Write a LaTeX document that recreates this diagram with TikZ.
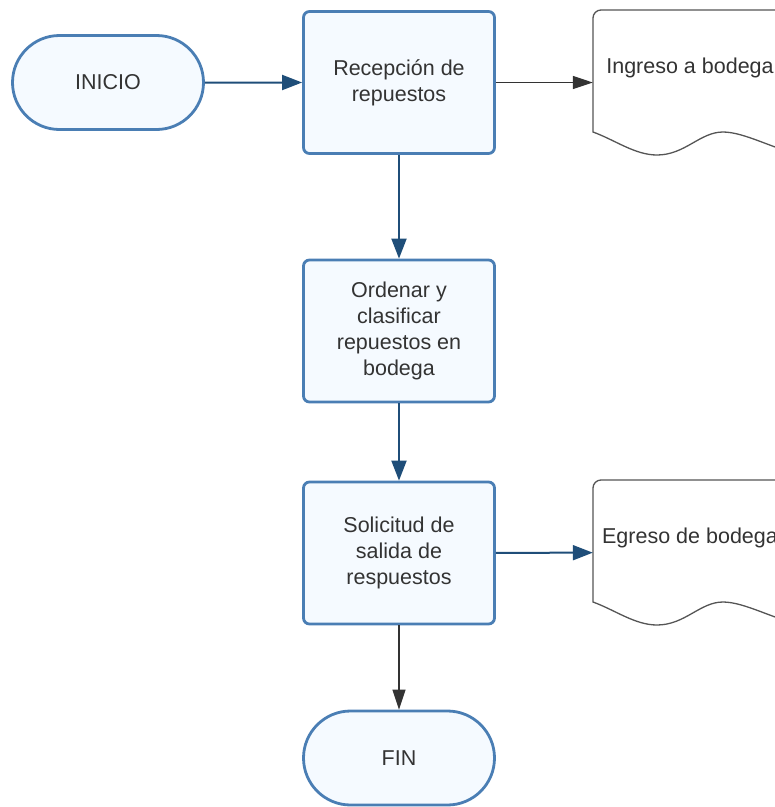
\documentclass[tikz,border=0pt]{standalone}
\usepackage{fontspec}
\setmainfont{Liberation Sans}
\usetikzlibrary{arrows.meta,shapes.misc}
\definecolor{bordblue}{HTML}{4A7EB4}
\definecolor{fillblue}{HTML}{F5FAFF}
\definecolor{arrblue}{HTML}{1F4E79}
\definecolor{txt}{HTML}{333333}
\definecolor{docline}{HTML}{555555}
\begin{document}
\begin{tikzpicture}[x=1pt,y=-1pt,
  lbl/.style={text=txt, font=\fontsize{21.5}{25.8}\selectfont, align=center, inner sep=0pt},
  proc/.style={lbl, draw=bordblue, fill=fillblue, line width=2.8pt, rounded corners=6pt,
               minimum width=191pt, minimum height=142pt},
  term/.style={lbl, rounded rectangle, draw=bordblue, fill=fillblue, line width=2.8pt,
               minimum width=191pt, minimum height=94pt},
  docarea/.style={inner sep=0pt, minimum width=194pt, minimum height=145pt},
  docshape/.style={draw=docline, line width=1.3pt, fill=white},
  bluearrow/.style={draw=arrblue, line width=2pt, -{Triangle[length=20pt,width=15pt]}},
  blackarrow/.style={draw=txt, line width=1.3pt, -{Triangle[length=20pt,width=13pt]}}
]
\useasboundingbox (0,0) rectangle (775,807);
\clip (0,0) rectangle (775,807);

% document shapes
\draw[docshape] (593,132) [rounded corners=8pt] -- (593,10) -- (800,10) [sharp corners] -- (800,154)
  .. controls (775,150) and (745,132) .. (723,132)
  .. controls (700,132) and (685,155) .. (657,155)
  .. controls (635,155) and (615,140) .. (593,132) -- cycle;
\draw[docshape] (593,602) [rounded corners=8pt] -- (593,480) -- (800,480) [sharp corners] -- (800,624)
  .. controls (775,620) and (745,602) .. (723,602)
  .. controls (700,602) and (685,625) .. (657,625)
  .. controls (635,625) and (615,610) .. (593,602) -- cycle;

\node[docarea] (ing) at (690,82.5) {};
\node[lbl] (ingt) at (690,68) {Ingreso a bodega};
\node[docarea] (egr) at (690,552.5) {};
\node[lbl] (egrt) at (690,538) {Egreso de bodega};

% flow nodes
\node[term] (ini) at (108,82.5) {INICIO};
\node[proc] (rec) at (399,82.5) {Recepción de\\repuestos};
\node[proc] (ord) at (399,331) {Ordenar y\\clasificar\\repuestos en\\bodega};
\node[proc] (sol) at (399,553) {Solicitud de\\salida de\\respuestos};
\node[term] (fin) at (399,758) {FIN};

% connectors
\draw[bluearrow] (ini) -- (rec);
\draw[blackarrow] (rec) -- (ing);
\draw[bluearrow] (rec) -- (ord);
\draw[bluearrow] (ord) -- (sol);
\draw[bluearrow] (sol) -- (egr);
\draw[blackarrow] (sol) -- (fin);
\end{tikzpicture}
\end{document}
